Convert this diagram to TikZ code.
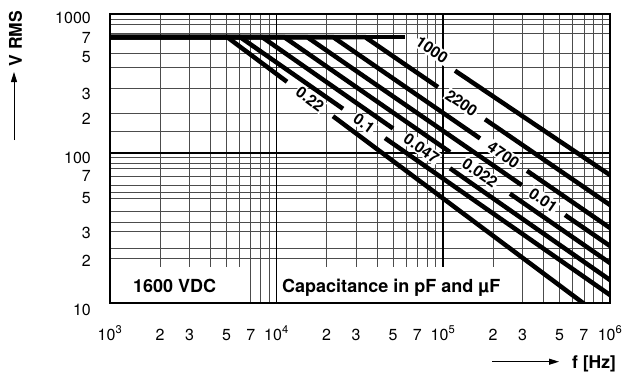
\documentclass[tikz,border=0pt]{standalone}
\usepackage{fontspec}
\setmainfont{TeX Gyre Heros}
\usetikzlibrary{arrows.meta}
\begin{document}
\begin{tikzpicture}[x=1pt,y=-1pt,
  gridln/.style={line width=0.7pt, black!70},
  majorln/.style={line width=1.6pt, black},
  curve/.style={line width=4.5pt, black, line join=miter},
  clab/.style={font=\fontsize{15.5}{15.5}\selectfont\bfseries, inner sep=1.2pt, fill=white},
  ticklab/.style={font=\fontsize{16}{16}\selectfont, inner sep=0pt},
  titlelab/.style={font=\fontsize{17.5}{17.5}\selectfont\bfseries, inner sep=0pt},
  boxlab/.style={font=\fontsize{18}{18}\selectfont\bfseries, inner sep=0pt}]
\useasboundingbox (0,0) rectangle (631,372);
\fill[white] (0,0) rectangle (631,372);
% vertical minor grid
\foreach \d in {110,276.5,443}{
  \foreach \m in {2,...,9}{
    \draw[gridln] ({\d+166.67*log10(\m)},14) -- ({\d+166.67*log10(\m)},303);
  }
}
% horizontal minor grid
\foreach \yy in {19.3,24,33,53.3,67.7,88.3,113.3,131.7,157.3,163.3,168.3,176.7,185,192.7,198.3,211.7,222.7,231.7,248.3,258.3}{
  \draw[gridln] (110,\yy) -- (610,\yy);
}
% major grid
\draw[majorln] (276.5,14) -- (276.5,303);
\draw[majorln] (443,14) -- (443,303);
\draw[majorln] (110,153) -- (610,153);
% white boxes for captions
\fill[white] (111,267) rectangle (240,302);
\fill[white] (278,267) rectangle (513,302);
% curves
\begin{scope}
\clip (110,14) rectangle (610,303);
% 1000 pF
\draw[curve] (108,37) -- (405,37);
\draw[curve] (455,70.7) -- (616,179.1);
% 2200 pF
\draw[curve] (108,37) -- (365,37) -- (438,87.1);
\draw[curve] (485,119.3) -- (616,209.1);
% 4700 pF
\draw[curve] (108,37) -- (333,37) -- (480,138.4);
\draw[curve] (527,170.8) -- (616,232.1);
% 0.01
\draw[curve] (108,37) -- (307,37) -- (521.7,185.1);
\draw[curve] (565,215) -- (616,250.1);
% 0.022
\draw[curve] (108,37) -- (284,37) -- (450,152.1);
\draw[curve] (510,193.7) -- (616,267.2);
% 0.047
\draw[curve] (108,37) -- (262,37) -- (393,128.5);
\draw[curve] (450,168.3) -- (616,284.2);
% 0.1
\draw[curve] (108,37) -- (240,37) -- (343,108.8);
\draw[curve] (385,138.1) -- (616,299.2);
% 0.22
\draw[curve] (108,37) -- (227,37) -- (287,81.8);
\draw[curve] (333,116.2) -- (590,308.2);
\end{scope}
% frame
\draw[line width=1.8pt] (110,14) rectangle (610,303);
% curve labels
\node[clab, rotate=-34] (c1000) at (432,50) {1000};
\node[clab, rotate=-34.4] (c2200) at (461.5,103.2) {2200};
\node[clab, rotate=-34.6] (c4700) at (503.5,154.6) {4700};
\node[clab, rotate=-34.6] (c001) at (543.3,200) {0.01};
\node[clab, rotate=-34.7] (c0022) at (480,172.9) {0.022};
\node[clab, rotate=-34.9] (c0047) at (421.5,148.4) {0.047};
\node[clab, rotate=-34.9] (c01) at (364,123.5) {0.1};
\node[clab, rotate=-36.8] (c022) at (310,99) {0.22};
% y tick labels
\node[ticklab, anchor=east] (y1000) at (91,18.3) {1000};
\node[ticklab, anchor=east] (y700) at (91,37.5) {7};
\node[ticklab, anchor=east] (y500) at (91,57.5) {5};
\node[ticklab, anchor=east] (y300) at (91,94) {3};
\node[ticklab, anchor=east] (y200) at (91,118.5) {2};
\node[ticklab, anchor=east] (y100) at (91,157.5) {100};
\node[ticklab, anchor=east] (y70) at (91,176) {7};
\node[ticklab, anchor=east] (y50) at (91,198.5) {5};
\node[ticklab, anchor=east] (y30) at (91,233) {3};
\node[ticklab, anchor=east] (y20) at (91,260.5) {2};
\node[ticklab, anchor=east] (y10) at (91,310) {10};
% x tick labels
\foreach \d/\e [count=\i] in {110/3,276.5/4,443/5}{
  \node[ticklab, anchor=base] (xd\i) at (\d,340) {10\textsuperscript{\e}};
  \foreach \m in {2,3,5,7}{
    \node[ticklab, anchor=base] (xm\i\m) at ({\d+166.67*log10(\m)},340) {\m};
  }
}
\node[ticklab, anchor=base] (xd4) at (610,340) {10\textsuperscript{6}};
% axis titles
\node[titlelab, rotate=90] (vt) at (15.5,38.5) {V RMS};
\coordinate (va1) at (14,140);
\coordinate (va2) at (14,72);
\draw[line width=1pt, -{Triangle[length=10pt,width=6pt]}] (va1) -- (va2);
\node[titlelab, anchor=base west] (ft) at (572,368) {f [Hz]};
\coordinate (fa1) at (492,361.7);
\coordinate (fa2) at (559,361.7);
\draw[line width=1pt, -{Triangle[length=10pt,width=6pt]}] (fa1) -- (fa2);
% captions
\node[boxlab, anchor=base west] (vdc) at (133,292) {1600 VDC};
\node[boxlab, anchor=base west] (cap) at (282,292) {Capacitance in pF and µF};
\end{tikzpicture}
\end{document}
